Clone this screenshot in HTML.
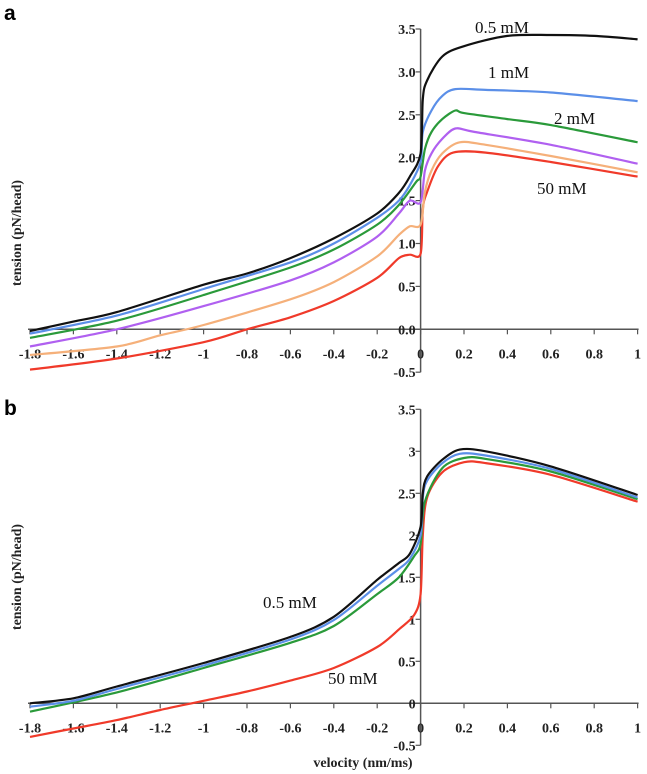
<!DOCTYPE html>
<html><head><meta charset="utf-8"><style>
body{margin:0;background:#fff;}
svg{display:block;font-family:"Liberation Serif",serif;}
.tk{font-size:14px;font-weight:bold;fill:#222;}
.ann{font-size:17px;fill:#111;}
</style></head><body>
<svg id="chart" width="647" height="774" viewBox="0 0 647 774">
<text x="4" y="20" font-family="Liberation Sans, sans-serif" font-weight="bold" font-size="21">a</text>
<text x="4" y="415" font-family="Liberation Sans, sans-serif" font-weight="bold" font-size="21">b</text>
</svg>
<script>
const xTicks=[-1.8,-1.6,-1.4,-1.2,-1,-0.8,-0.6,-0.4,-0.2,0,0.2,0.4,0.6,0.8,1];
const yTicksA=["3.5","3.0","2.5","2.0","1.5","1.0","0.5","0.0","-0.5"];
const yTicksB=["3.5","3","2.5","2","1.5","1","0.5","0","-0.5"];
const yVals=[3.5,3,2.5,2,1.5,1,0.5,0,-0.5];
const aBlackX=[-1.8,-1.6,-1.4,-1.0,-0.8,-0.6,-0.4,-0.2,-0.1,-0.05,0,0.01,0.03,0.1,0.2,0.4,0.6,0.8,1.0];
const aBlackY=[-0.02,0.09,0.2,0.52,0.65,0.83,1.06,1.35,1.59,1.78,2.05,2.68,2.9,3.18,3.3,3.42,3.43,3.42,3.38];
const aBlueX=[-1.8,-1.4,-1.0,-0.6,-0.4,-0.2,-0.1,-0.05,0,0.01,0.05,0.1,0.16,0.3,0.6,1.0];
const aBlueY=[-0.05,0.16,0.47,0.78,1.0,1.3,1.5,1.68,1.95,2.3,2.55,2.72,2.8,2.79,2.76,2.66];
const aGreenX=[-1.8,-1.4,-1.0,-0.6,-0.4,-0.2,-0.1,-0.02,0,0.02,0.05,0.1,0.16,0.2,0.4,0.6,1.0];
const aGreenY=[-0.1,0.1,0.4,0.72,0.93,1.22,1.45,1.72,1.78,2.1,2.3,2.45,2.55,2.52,2.45,2.38,2.18];
const aPurpleX=[-1.8,-1.4,-1.0,-0.6,-0.4,-0.2,-0.1,-0.05,0,0.02,0.05,0.1,0.16,0.25,0.6,1.0];
const aPurpleY=[-0.2,0.0,0.27,0.57,0.78,1.08,1.35,1.5,1.48,1.85,2.05,2.22,2.34,2.3,2.15,1.93];
const aOrangeX=[-1.8,-1.4,-1.2,-1.0,-0.6,-0.4,-0.2,-0.1,-0.05,0,0.02,0.05,0.1,0.18,0.3,0.6,1.0];
const aOrangeY=[-0.3,-0.2,-0.07,0.05,0.35,0.55,0.85,1.1,1.2,1.22,1.6,1.85,2.05,2.18,2.15,2.02,1.83];
const aRedX=[-1.8,-1.4,-1.0,-0.8,-0.6,-0.4,-0.2,-0.1,-0.05,0,0.01,0.03,0.08,0.15,0.3,0.6,1.0];
const aRedY=[-0.47,-0.34,-0.15,0.0,0.14,0.33,0.6,0.83,0.87,0.88,1.4,1.6,1.9,2.06,2.06,1.95,1.78];
const bBlackX=[-1.8,-1.6,-1.4,-1.0,-0.6,-0.4,-0.2,-0.1,-0.05,0,0.01,0.03,0.1,0.18,0.3,0.6,1.0];
const bBlackY=[0.0,0.06,0.2,0.48,0.79,1.03,1.47,1.67,1.78,2.1,2.5,2.7,2.9,3.02,3.0,2.82,2.48];
const bBlueX=[-1.8,-1.6,-1.4,-1.0,-0.6,-0.4,-0.2,-0.1,-0.05,0,0.01,0.03,0.1,0.18,0.3,0.6,1.0];
const bBlueY=[-0.04,0.03,0.17,0.45,0.76,0.99,1.4,1.6,1.72,2.0,2.45,2.65,2.86,2.97,2.95,2.79,2.45];
const bGreenX=[-1.8,-1.4,-1.0,-0.6,-0.4,-0.2,-0.1,-0.03,0,0.02,0.1,0.2,0.3,0.6,1.0];
const bGreenY=[-0.1,0.13,0.42,0.72,0.92,1.3,1.5,1.75,1.9,2.4,2.8,2.92,2.91,2.76,2.43];
const bRedX=[-1.8,-1.6,-1.4,-1.2,-1.0,-0.8,-0.6,-0.4,-0.2,-0.1,-0.03,0,0.01,0.03,0.1,0.2,0.3,0.6,1.0];
const bRedY=[-0.4,-0.3,-0.2,-0.08,0.03,0.14,0.27,0.42,0.67,0.88,1.05,1.3,2.0,2.45,2.75,2.87,2.86,2.72,2.4];

const NS="http://www.w3.org/2000/svg";
const svg=document.getElementById('chart');
function mk(tag,attrs,parent){const e=document.createElementNS(NS,tag);for(const k in attrs)e.setAttribute(k,attrs[k]);(parent||svg).appendChild(e);return e;}
const xs=v=>420.6+v*217;
function smooth(pts){
  let d='M'+pts[0][0].toFixed(1)+','+pts[0][1].toFixed(1);
  const t=0.15;
  for(let i=0;i<pts.length-1;i++){
    const p0=pts[Math.max(0,i-1)],p1=pts[i],p2=pts[i+1],p3=pts[Math.min(pts.length-1,i+2)];
    const c1x=p1[0]+(p2[0]-p0[0])*t,c1y=p1[1]+(p2[1]-p0[1])*t;
    const c2x=p2[0]-(p3[0]-p1[0])*t,c2y=p2[1]-(p3[1]-p1[1])*t;
    d+='C'+c1x.toFixed(1)+','+c1y.toFixed(1)+' '+c2x.toFixed(1)+','+c2y.toFixed(1)+' '+p2[0].toFixed(1)+','+p2[1].toFixed(1);
  }
  return d;
}
function panel(id,y0,perUnit,labels,series,annots,titleY,showXTitle){
  const ys=v=>y0-v*perUnit;
  const g=mk('g',{});
  
  
  const xa=mk('line',{x1:xs(-1.8)-2,x2:xs(1)+1,y1:ys(0),y2:ys(0),stroke:'#555','stroke-width':1.5},g);
  
  
  const ya=mk('line',{x1:xs(0),x2:xs(0),y1:ys(3.5),y2:ys(-0.5),stroke:'#555','stroke-width':1.5},g);
  
  
  xTicks.forEach(t=>{
    mk('line',{x1:xs(t),x2:xs(t),y1:ys(0),y2:ys(0)+5,stroke:'#555','stroke-width':1.2},g);
    const tx=mk('text',{x:xs(t),y:ys(0)+29,'text-anchor':'middle',class:'tk'},g);
    tx.textContent=String(t);
    
    
  });
  yVals.forEach((v,i)=>{
    mk('line',{x1:xs(0)-5,x2:xs(0),y1:ys(v),y2:ys(v),stroke:'#555','stroke-width':1.2},g);
    const tx=mk('text',{x:xs(0)-5,y:ys(v)+5,'text-anchor':'end',class:'tk'},g);
    tx.textContent=labels[i];
    
    
  });
  const yt=mk('text',{transform:`translate(21,${titleY}) rotate(-90)`,'text-anchor':'middle','font-size':14,'font-weight':'bold',fill:'#222'},g);
  yt.textContent='tension (pN/head)';
  
  
  if(showXTitle){
    const xt=mk('text',{x:363,y:767,'text-anchor':'middle','font-size':14,'font-weight':'bold',fill:'#222'},g);
    xt.textContent='velocity (nm/ms)';
    
    
  }
  series.forEach(s=>{
    const pts=s.x.map((v,i)=>[xs(v),ys(s.y[i])]);
    const p=mk('path',{d:smooth(pts),fill:'none',stroke:s.c,'stroke-width':2.2,'stroke-linejoin':'round'},g);
    
    
  });
  annots.forEach(a=>{
    const t=mk('text',{x:a[1],y:a[2],class:'ann'},g);
    t.textContent=a[0];
    
    
  });
}
panel('panel-a-chart',329.3,85.8,yTicksA,[
 {x:aRedX,y:aRedY,c:'#f03a2a',n:'line-a-50mm'},
 {x:aOrangeX,y:aOrangeY,c:'#f5b07a',n:'line-a-orange'},
 {x:aPurpleX,y:aPurpleY,c:'#b060f0',n:'line-a-purple'},
 {x:aGreenX,y:aGreenY,c:'#2a9a3a',n:'line-a-2mm'},
 {x:aBlueX,y:aBlueY,c:'#5b8fe8',n:'line-a-1mm'},
 {x:aBlackX,y:aBlackY,c:'#111',n:'line-a-0.5mm'}
],[["0.5 mM",475,33],["1 mM",488,78],["2 mM",554,124],["50 mM",537,194]],233,false);
panel('panel-b-chart',703.3,84,yTicksB,[
 {x:bRedX,y:bRedY,c:'#f03a2a',n:'line-b-50mm'},
 {x:bGreenX,y:bGreenY,c:'#2a9a3a',n:'line-b-green'},
 {x:bBlueX,y:bBlueY,c:'#5b8fe8',n:'line-b-blue'},
 {x:bBlackX,y:bBlackY,c:'#111',n:'line-b-0.5mm'}
],[["0.5 mM",263,608],["50 mM",328,684]],577,true);
</script>
</body></html>
